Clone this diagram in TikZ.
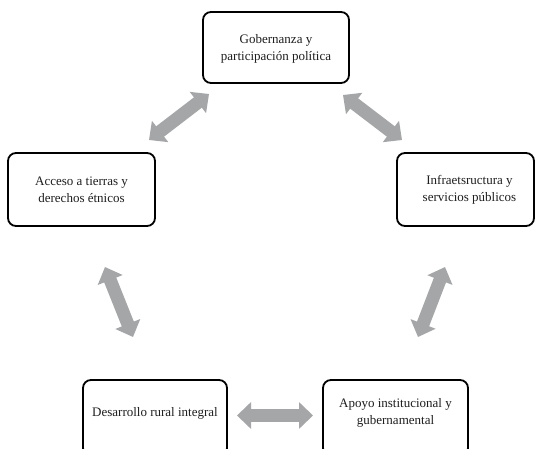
\documentclass[tikz,border=0pt]{standalone}
\usepackage{fontspec}
\setmainfont{Liberation Serif}
\usetikzlibrary{arrows.meta}
\definecolor{arrgray}{RGB}{164,166,168}
\definecolor{txtgray}{RGB}{30,30,30}
\tikzset{
  box/.style={draw=black, line width=1.8pt, rounded corners=8pt, rectangle, inner sep=0pt},
  lbl/.style={align=center, text=txtgray, font=\fontsize{13}{17}\selectfont, inner sep=0pt},
  bigarrow/.style={draw=arrgray, line width=13pt, {Triangle[length=14pt,width=26pt]}-{Triangle[length=14pt,width=26pt]}}
}
\begin{document}
\begin{tikzpicture}[x=1pt,y=-1pt]
\clip (0,0) rectangle (535,449);
\fill[white] (0,0) rectangle (535,449);
\node[box, minimum width=146pt, minimum height=71pt, label={[lbl, yshift=-1pt]center:Gobernanza y\\participación política}] (gob) at (276,47.5) {};
\node[box, minimum width=147pt, minimum height=73pt, label={[lbl, yshift=0pt]center:Acceso a tierras y\\derechos étnicos}] (acc) at (81.5,189.5) {};
\node[box, minimum width=137pt, minimum height=73pt, label={[lbl, xshift=4pt]center:Infraetsructura y\\servicios públicos}] (inf) at (465.5,189.5) {};
\node[box, minimum width=144pt, minimum height=76pt, label={[lbl, yshift=5pt]center:Desarrollo rural integral}] (des) at (155,418) {};
\node[box, minimum width=145pt, minimum height=76pt, label={[lbl, yshift=5pt]center:Apoyo institucional y\\gubernamental}] (apo) at (395.5,418) {};
\coordinate (a1s) at (149,140); \coordinate (a1e) at (209,94);
\coordinate (a2s) at (343,95);  \coordinate (a2e) at (402,140);
\coordinate (a3s) at (105,267); \coordinate (a3e) at (133,337);
\coordinate (a4s) at (445,267); \coordinate (a4e) at (418,337);
\coordinate (a5s) at (237,415.5); \coordinate (a5e) at (313,415.5);
\draw[bigarrow] (a1s) -- (a1e);
\draw[bigarrow] (a2s) -- (a2e);
\draw[bigarrow] (a3s) -- (a3e);
\draw[bigarrow] (a4s) -- (a4e);
\draw[bigarrow] (a5s) -- (a5e);
\end{tikzpicture}
\end{document}
